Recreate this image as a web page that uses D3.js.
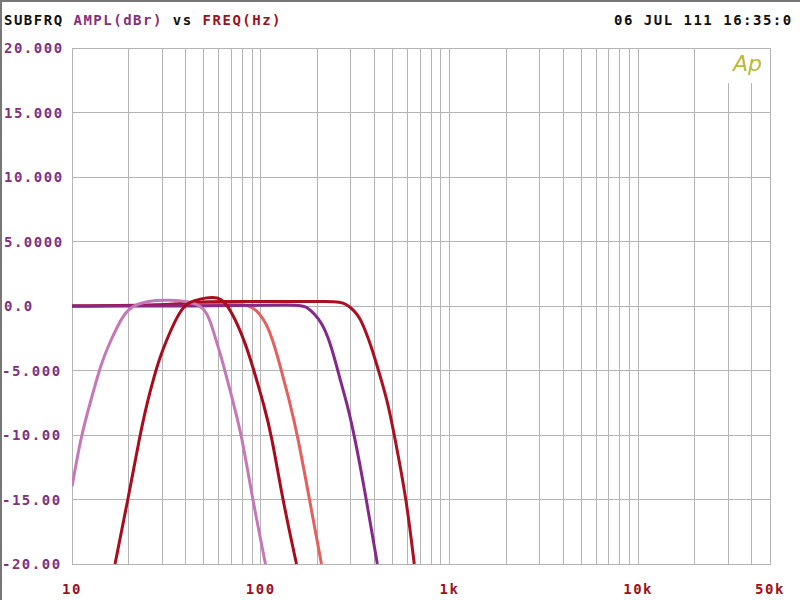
<!DOCTYPE html>
<html><head><meta charset="utf-8">
<script src="https://cdn.jsdelivr.net/npm/d3@7"></script>
<style>html,body{margin:0;padding:0;background:#fff}svg{display:block}</style>
</head><body><svg id="c" width="800" height="600"></svg>
<script>
// ---- data ----
const yTicks = [20, 15, 10, 5, 0, -5, -10, -15, -20];
const yTickLabels = ["20.000", "15.000", "10.000", "5.0000", "0.0", "-5.000", "-10.00", "-15.00", "-20.00"];
const xTicks = [10, 100, 1000, 10000, 50000];
const xTickLabels = ["10", "100", "1k", "10k", "50k"];
const xGrid = [20,30,40,50,60,70,80,90,100,200,300,400,500,600,700,800,900,1000,2000,3000,4000,5000,6000,7000,8000,9000,10000,20000,30000,40000];

const coralF   = [10, 30, 60, 82.2, 90.6, 98.7, 107.4, 115.6, 124.5, 134, 142.2, 156.7, 181.4, 209.9];
const coralDb  = [0, 0.05, 0.12, 0.15, -0.1, -0.6, -1.4, -2.6, -4.2, -6, -7.4, -10, -15, -20];

const darkred2F  = [10, 25, 35, 45, 60, 150, 231.4, 261.4, 284.7, 309.9, 333.4, 358.8, 385.9, 405.2, 469, 510.7, 591, 651.4];
const darkred2Db = [0, 0.05, 0.15, 0.3, 0.35, 0.35, 0.35, 0.3, 0.15, -0.3, -0.85, -1.9, -3.18, -4.19, -7.29, -10, -14.9, -20];

const purpleF  = [10, 50, 100, 160.6, 174.9, 192.8, 212.5, 228.6, 245.9, 264.6, 284.7, 313.8, 363.1, 415.1];
const purpleDb = [0, 0, 0.05, 0.1, -0.05, -0.6, -1.4, -2.5, -4, -5.8, -7.4, -10, -15, -20];

const orchidF  = [10, 11.2, 12.6, 14.3, 15.9, 17.5, 19.2, 21, 24, 28, 33, 38, 43.6, 48, 51.7, 55, 59, 62.5, 71, 79.3, 90.6, 106];
const orchidDb = [-14, -10, -7.3, -4.4, -2.8, -1.5, -0.5, 0, 0.3, 0.45, 0.45, 0.4, 0.25, 0, -0.5, -1.5, -3, -4.2, -7.3, -10, -15, -20];

const darkred1F  = [16.9, 19.8, 22.9, 25.2, 27.2, 29.2, 31.8, 35, 38.6, 42, 47.6, 55.7, 62.1, 66.9, 71.8, 77.3, 83.2, 89.5, 96.3, 103.6, 114.2, 130.6, 154.8];
const darkred1Db = [-20, -15, -10, -7.3, -5.5, -4, -2.6, -1.2, -0.1, 0.3, 0.55, 0.7, 0.55, 0, -0.8, -1.8, -3, -4.4, -6, -7.6, -10, -15, -20];

const series = [
  {f: coralF, db: coralDb, color: "#e4605e"},
  {f: darkred2F, db: darkred2Db, color: "#ac1020"},
  {f: purpleF, db: purpleDb, color: "#86288a"},
  {f: orchidF, db: orchidDb, color: "#c678b6"},
  {f: darkred1F, db: darkred1Db, color: "#a80c1c"}
];

// ---- layout ----
const L = 72, R = 770, T = 48, B = 564;
const svg = d3.select("#c");
const x = d3.scaleLog().domain([10, 50000]).range([L, R]);
const y = d3.scaleLinear().domain([-20, 20]).range([B, T]);
const font = "'DejaVu Sans Mono', monospace";

// image frame
svg.append("line").attr("x1",1).attr("x2",1).attr("y1",0).attr("y2",600).attr("stroke","#777").attr("stroke-width",2);
svg.append("line").attr("x1",0).attr("x2",800).attr("y1",1).attr("y2",1).attr("stroke","#777").attr("stroke-width",2);

// grid
const g = svg.append("g").attr("stroke", "#b4b4b4").attr("stroke-width", 1).attr("shape-rendering","crispEdges");
xGrid.forEach(v => g.append("line").attr("x1", x(v)).attr("x2", x(v)).attr("y1", T).attr("y2", B));
yTicks.forEach(v => g.append("line").attr("x1", L).attr("x2", R).attr("y1", y(v)).attr("y2", y(v)));
g.append("rect").attr("x", L).attr("y", T).attr("width", R - L).attr("height", B - T).attr("fill", "none");

// Ap logo box
svg.append("rect").attr("x", 712).attr("y", T + 1).attr("width", R - 712 - 0.5).attr("height", 34).attr("fill", "#fff");
svg.append("text").attr("x", 733).attr("y", 71).attr("font-family", "'DejaVu Sans', sans-serif")
  .attr("font-style", "italic").attr("font-size", 22).attr("fill", "#b8ba3a").text("Ap");

// curves
svg.append("clipPath").attr("id", "pc").append("rect")
  .attr("x", L).attr("y", T).attr("width", R - L).attr("height", B - T + 1);
const line = d3.line().x(d => x(d[0])).y(d => y(d[1])).curve(d3.curveBasis);
const cg = svg.append("g").attr("clip-path", "url(#pc)");
series.forEach(s => {
  cg.append("path").datum(s.f.map((f, i) => [f, s.db[i]]))
    .attr("d", line).attr("fill", "none").attr("stroke", s.color)
    .attr("stroke-width", 3).attr("stroke-linejoin", "round");
});

// y labels
yTicks.forEach((v, i) => {
  svg.append("text").attr("x", yTickLabels[i].startsWith("-") ? 2 : 4).attr("y", y(v) + 5)
    .attr("font-family", font).attr("font-weight", "bold").attr("font-size", 14)
    .attr("letter-spacing", 1.5).attr("fill", "#84307e").text(yTickLabels[i]);
});
// x labels
xTicks.forEach((v, i) => {
  svg.append("text").attr("x", x(v)).attr("y", 594).attr("text-anchor", "middle")
    .attr("font-family", font).attr("font-weight", "bold").attr("font-size", 14)
    .attr("letter-spacing", 1.5).attr("fill", "#a0101c").text(xTickLabels[i]);
});

// title
const t = svg.append("text").attr("x", 4).attr("y", 25).attr("font-family", font)
  .attr("font-weight", "bold").attr("font-size", 14).attr("letter-spacing", 1.5);
t.append("tspan").attr("fill", "#111").text("SUBFRQ ");
t.append("tspan").attr("fill", "#84307e").text("AMPL(dBr) ");
t.append("tspan").attr("fill", "#111").text("vs ");
t.append("tspan").attr("fill", "#a0101c").text("FREQ(Hz)");
svg.append("text").attr("x", 614).attr("y", 25).attr("font-family", font)
  .attr("font-weight", "bold").attr("font-size", 14).attr("letter-spacing", 1.5)
  .attr("fill", "#111").text("06 JUL 111 16:35:0");
</script></body></html>
